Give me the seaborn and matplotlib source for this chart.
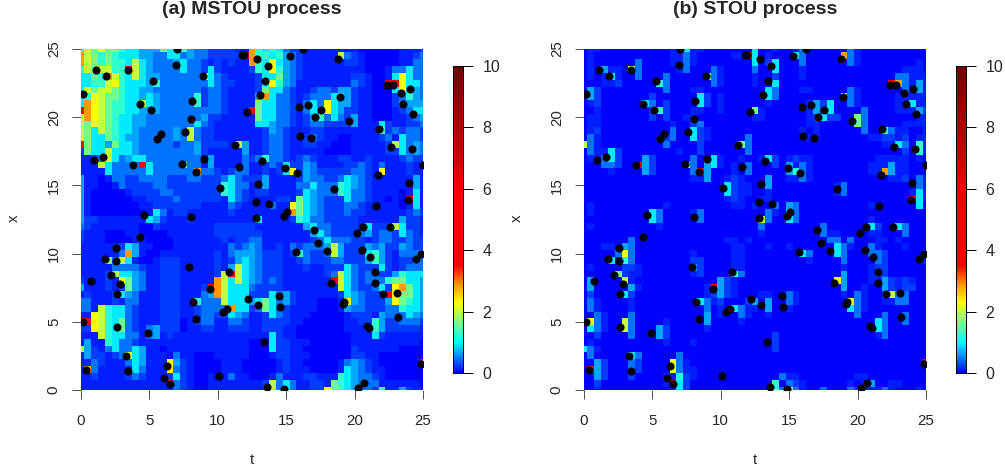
import matplotlib
matplotlib.use("Agg")
import matplotlib.pyplot as plt
from matplotlib.colors import LinearSegmentedColormap
import numpy as np
import pandas as pd
import seaborn as sns

TITLES = ["(a) MSTOU process", "(b) STOU process"]
LEVELS = {'0': 0.0, '1': 0.12, '2': 0.25, '3': 0.45, '4': 0.65, '5': 0.92, '6': 1.25,
          '7': 1.6, '8': 2.0, '9': 2.3, 'a': 2.85, 'b': 3.6}
# rows run from x=25 (top) to x=0; columns from t=0 to t=25 in steps of 0.5
MSTOU = """
68797 76554 44755 64332 22211 a6565 32211 11111 10000 00111 2
a8767 65554 43355 34332 2222b a6656 43211 11183 21000 00112 3
a8767 66585 43334 53321 21211 a6595 43211 11112 21000 00113 3
68788 66b85 43333 53325 21111 26596 43211 11111 11000 13353 3
5576a 86585 44333 33385 32111 12557 43211 11111 22100 15953 3
55668 96555 46333 33335 32211 12596 43111 11111 32100 bb955 3
58788 76554 43333 33323 32111 12755 32112 33244 21100 05954 3
56987 76554 54333 33623 32111 14a53 32123 335a4 21100 02364 3
5a987 66558 54333 33623 32111 17553 32135 39544 21100 02344 4
ba987 66554 44333 33333 32111 b7553 32135 49542 21100 01235 5
8a987 65544 33333 33342 21111 17553 32124 63532 41100 01123 4
87987 65544 33333 33532 11111 15543 32123 32222 41115 21122 3
87587 65543 33334 38322 11111 11243 21112 21111 11116 23233 2
87557 65443 33334 38322 11111 11233 21123 21100 11112 31533 2
b7554 75543 33332 33422 22184 11233 21122 11000 11111 28534 3
27558 55543 33333 33421 11114 11233 21111 10000 11111 22534 3
11238 53455 33333 33314 11113 23633 21232 11122 11211 11232 2
11185 3333b 53333 73314 11113 11232 52243 11112 23213 11121 1
11115 33333 53333 33a33 21233 11212 59243 22222 33219 11121 1
41101 33223 33322 23322 23532 22411 11243 32235 43211 11114 1
41100 13222 23322 22222 26533 11411 11335 33365 43211 11114 1
41000 00122 22332 22222 26532 12211 11254 33365 33211 11015 1
41000 00011 22223 22222 21532 11112 21754 32225 33211 010b5 1
41000 00001 12222 22211 11321 11131 19754 32223 32111 11015 1
41000 00000 15312 21111 11211 11111 1a754 32223 22111 11123 2
42211 11111 54211 12111 11111 15111 12653 32222 21111 11422 1
32111 11110 02111 11111 22222 21111 11145 33222 21522 28522 1
21110 00110 00011 11111 22222 22111 11114 53222 23423 32532 1
21110 00011 00001 11111 12122 33111 11112 35333 22123 32232 2
11111 12541 10001 11111 11323 43112 13233 34842 22434 22432 2
11111 13a41 00111 11111 21344 43222 12632 23842 22564 21333 3
11117 38510 01222 11111 21245 43222 11232 22332 22464 21223 3
11111 33332 11222 11111 21485 43222 11121 12225 32225 21233 3
11112 85543 11222 11111 28b85 43222 11111 12385 32332 24655 5
21112 19743 11222 11111 a8585 43232 11111 11b85 32333 67755 4
41112 12743 11222 1112b a8555 32222 11111 11185 32235 29a75 4
12111 25431 11222 11134 a8555 22253 42111 11125 43222 b9775 4
33111 21331 11222 11633 38555 45753 42111 00019 43222 49765 4
33186 55321 11222 11233 33a55 23753 21111 00014 33222 33655 4
11986 55321 11222 11233 22543 11253 21110 00001 22214 33354 3
bb986 57321 11222 01233 11332 11222 21100 00001 12264 22333 2
22986 57321 34222 01122 11222 11222 11000 00001 11264 22222 1
11186 55331 34121 11111 11111 11152 11000 00000 11152 11111 1
14116 53321 11111 11111 11111 00152 21110 00000 11111 11111 0
84213 53354 11011 11111 11111 00052 21100 00000 21111 11000 0
14221 23954 11103 11000 11111 00012 21110 00000 22110 00000 0
11321 11354 11194 21000 01110 00001 21100 00013 43210 00000 b
1a311 11153 11193 21000 01110 00001 21110 00015 43211 00000 0
11211 11232 11125 21001 01311 00013 11122 11165 43321 00000 0
11111 11111 111b3 21001 11111 11283 53112 21765 43331 11111 0
11111 11111 11113 21001 11111 11283 53112 29765 43326 11421 1
"""
STOU = """
01100 00000 00011 51100 00000 50010 01300 00003 10000 00000 0
01000 00000 00011 31000 0011b 50100 05300 000a3 10000 00000 0
01000 00030 00011 31000 00000 50250 00300 00003 10000 00001 0
01041 10830 00001 30003 10000 30050 00100 00000 00000 00111 0
01015 10030 00300 00073 10000 10020 00100 00000 00000 03311 1
00011 20000 06300 00003 10000 10050 00000 00000 00000 ba314 1
04200 00000 00300 01100 00000 00530 00110 00003 10000 00314 1
04200 00000 20000 00520 10000 00530 00000 00083 10000 01111 1
01200 00005 30200 00520 10000 00100 00014 25003 10000 01151 1
00100 00000 26200 01100 10000 71000 00014 25000 03000 01114 2
01100 00000 20200 11000 00000 11000 00012 52200 73000 00001 1
01100 00000 00010 02300 00000 00000 00011 00000 73000 00111 1
01200 00000 00030 05210 00000 00000 00101 00000 03006 31100 1
03100 00000 00230 05210 00003 00000 00011 00000 00112 21201 1
83100 00000 00300 00200 00073 00000 00000 00000 00001 15306 1
03115 20000 00001 00200 00003 00000 00000 00000 00000 00206 1
01135 20004 20000 03005 10010 01520 12110 00000 00011 11101 0
00033 200b4 20000 73045 10103 00020 41310 00000 00111 41100 0
00001 00004 20000 03b40 00103 00000 46310 00000 0011a 41100 0
00000 00000 00000 01140 01210 00400 11310 00000 00000 11203 1
00000 00000 00000 00000 05211 00400 00000 00130 00000 00003 1
00000 00000 00000 00000 05211 00100 00000 00130 00000 00015 1
00000 00000 00000 00000 01210 01100 00000 00000 00000 000b5 1
01000 00000 00100 00000 00110 10030 43000 00000 00100 00005 0
01000 00000 53000 01300 00000 00310 53000 00000 00000 00000 0
00000 00000 53000 00300 00000 08300 53000 00000 00100 00000 0
01000 00000 01000 00000 00000 03000 00000 30000 00520 05300 0
00000 00000 00000 00000 00000 01000 00000 31100 00110 00300 0
00000 00300 00000 00000 01101 00000 00000 03303 00011 01000 0
00011 04300 00000 00000 00110 00100 10000 00531 00310 00100 0
00000 39300 00000 01000 00110 00000 00530 00530 00332 00000 1
00005 06300 00000 02200 00110 00000 00010 00030 00032 00000 1
01000 02210 00000 04200 00110 00000 00000 00010 00122 00000 0
00000 72110 00000 01200 00630 00000 00000 00040 00122 00000 0
04000 08100 00000 00000 42100 00000 00000 00940 00114 21210 0
04000 00410 00000 0001b 42100 00000 00000 00040 01004 21220 0
02000 05200 00000 00012 42100 01100 31000 00010 31002 83300 0
03100 00100 00000 00531 20002 40400 31000 00009 31001 13300 0
03100 00100 00000 00030 10531 10400 10000 00005 31000 00000 0
00310 00300 00000 00040 10031 00100 00000 00000 30003 00300 0
09310 08300 00100 00040 00010 00000 00000 00000 00053 00300 0
05310 08300 04200 00010 00000 00000 00000 00000 00053 00000 0
00200 00300 04200 00000 00000 00020 00000 00000 00013 00000 0
01000 00000 00100 01000 00000 00020 00000 00000 00000 00000 0
53100 00000 00000 00000 00000 00020 00000 00000 00000 00000 0
03000 00530 00003 00000 00000 00000 00000 00000 00000 00000 0
00420 00320 00093 10000 00000 00000 00000 00000 00000 00000 b
0b420 00320 00093 11000 00000 00000 00000 00000 00000 00000 0
00420 00200 00116 21000 00000 00003 11000 00000 11000 00000 0
00200 00000 001b5 20000 00000 00060 32100 00001 01400 11000 0
00100 00000 00015 20000 00000 00063 73100 30003 21113 10001 0
"""
POINT_T = [7.04, 11.75, 11.9, 6.97, 1.07, 1.8, 3.46, 8.92, 5.24, 0.12, 4.31, 8.11, 5.14, 8.07, 12.1,
           5.87, 5.58, 7.58, 11.23, 1.63, 0.93, 3.83, 7.36, 9.02, 11.55, 8.41, 10.14, 4.58, 8.02,
           16.25, 15.25, 12.9, 13.69, 18.81, 13.43, 13.06, 22.37, 22.78, 24.07, 23.37, 23.56, 18.93,
           15.94, 16.57, 17.52, 17.1, 19.62, 24.27, 21.8, 16.03, 16.79, 22.66, 24.22, 13.2, 14.9,
           15.79, 21.74, 25.0, 12.94, 18.52, 24.0, 12.77, 13.72, 23.88, 21.56, 15.03, 14.86, 12.79,
           4.34, 2.56, 1.75, 2.53, 7.87, 10.79, 2.19, 0.76, 2.88, 2.63, 9.43, 8.16, 12.23, 10.7, 10.4,
           8.43, 0.17, 2.63, 4.9, 3.31, 6.29, 0.34, 3.46, 6.07, 6.5, 10.06,
           17.03, 20.6, 20.15, 22.59, 17.33, 18.0, 15.74, 20.52, 21.1, 24.83, 24.46, 21.52, 21.52,
           18.25, 14.47, 22.1, 23.12, 14.57, 12.96, 19.22, 19.13, 23.15, 20.9, 21.08, 13.4, 24.88,
           20.69, 20.22, 13.6, 14.82]
POINT_X = [25.0, 24.56, 24.56, 23.8, 23.46, 23.0, 23.46, 23.0, 22.65, 21.7, 21.0, 21.16, 20.5, 19.9, 20.4,
           18.75, 18.4, 18.9, 17.94, 17.06, 16.84, 16.47, 16.6, 16.9, 16.35, 15.96, 14.78, 12.8, 12.68,
           25.0, 24.5, 24.25, 23.75, 24.25, 22.63, 21.6, 22.34, 22.34, 22.04, 21.75, 20.94, 21.46,
           20.72, 20.87, 20.5, 20.0, 19.7, 20.2, 19.1, 18.6, 18.45, 17.8, 17.65, 16.76, 16.25,
           15.9, 15.74, 16.47, 15.08, 14.7, 15.15, 13.76, 13.6, 13.9, 13.47, 13.03, 12.73, 12.6,
           11.19, 10.39, 9.58, 9.43, 8.99, 8.63, 8.41, 7.97, 7.75, 7.01, 7.38, 6.43, 6.65, 5.91, 5.69,
           5.18, 4.96, 4.6, 4.15, 2.47, 1.74, 1.44, 1.37, 0.85, 0.41, 1.0,
           11.71, 11.93, 11.49, 11.93, 10.75, 10.17, 10.09, 10.24, 9.73, 9.95, 9.58, 8.63, 7.82,
           7.82, 6.87, 7.01, 7.09, 6.06, 6.21, 6.43, 6.28, 5.33, 4.67, 4.52, 3.5, 1.88,
           0.49, 0.15, 0.2, 0.1]
AXIS_TICKS = [0, 5, 10, 15, 20, 25]
CBAR_TICKS = [0, 2, 4, 6, 8, 10]


def parse(text):
    rows = [r.replace(" ", "") for r in text.strip().splitlines()]
    return pd.DataFrame([[LEVELS[c] for c in r] for r in rows])


VMAX = 10.0
nodes = [(0, (0, 0, 1)), (0.25, (0, .25, 1)), (1.0, (0, 1, 1)), (1.6, (.45, 1, .55)), (2.3, (1, 1, 0)),
         (2.85, (1, .6, 0)), (3.5, (1, 0, 0)), (6.0, (.95, 0, 0)), (10, (.45, 0, 0))]
cmap = LinearSegmentedColormap.from_list("jetlike", [(v / VMAX, c) for v, c in nodes], N=512)

sns.set_style("white")
plt.rcParams['font.family'] = ['Liberation Sans', 'DejaVu Sans']
W, H = 1005, 473
fig = plt.figure(figsize=(W / 100, H / 100), dpi=100)


def box(x0, y0, x1, y1):
    return [x0 / W, 1 - y1 / H, (x1 - x0) / W, (y1 - y0) / H]


def pos(v):
    return 2 * np.asarray(v, dtype=float) + 0.5


panels = [(MSTOU, 81, 453, TITLES[0]), (STOU, 584, 956, TITLES[1])]
for text, left, cleft, title in panels:
    ax = fig.add_axes(box(left, 49, left + 342, 390))
    cax = fig.add_axes(box(cleft, 66, cleft + 10, 373))
    sns.heatmap(parse(text), ax=ax, cbar_ax=cax, cmap=cmap, vmin=0, vmax=VMAX,
                xticklabels=False, yticklabels=False, square=False)
    df = pd.DataFrame({"t": pos(POINT_T), "x": pos(25 - np.asarray(POINT_X))})
    sns.scatterplot(data=df, x="t", y="x", ax=ax, color="black", s=34, linewidth=0, legend=False, zorder=5)
    ax.set_xlim(0.5, 50.5)
    ax.set_ylim(50.5, 0.5)
    ax.set_xticks(pos(AXIS_TICKS))
    ax.set_xticklabels([str(v) for v in AXIS_TICKS], fontsize=10.8)
    ax.set_yticks(pos([25 - v for v in AXIS_TICKS]))
    ax.set_yticklabels([str(v) for v in AXIS_TICKS], fontsize=10.8, rotation=90, va="center")
    ax.tick_params(axis="x", length=6.5, width=0.6, color="#333333", pad=11, bottom=True)
    ax.tick_params(axis="y", length=6.5, width=0.6, color="#333333", pad=8, left=True)
    for s in ax.spines.values():
        s.set_visible(False)
    ax.set_xlabel("")
    ax.set_ylabel("")
    fig.text((left + 171) / W, 1 - 459.5 / H, "t", fontsize=10.8, ha="center", va="center")
    fig.text((left - 67) / W, 1 - 218 / H, "x", fontsize=10.8, ha="center", va="center", rotation=90)
    fig.text((left + 171) / W, 1 - 10 / H, title, fontsize=14, fontweight="bold", ha="center", va="center")
    cax.set_yticks(CBAR_TICKS)
    cax.set_yticklabels([str(v) for v in CBAR_TICKS], fontsize=11.5)
    cax.tick_params(axis="y", right=True, length=7, width=0.7, color="black", pad=7)
    for s in cax.spines.values():
        s.set_visible(True)
        s.set_linewidth(0.7)
        s.set_color("black")

fig.savefig("out.png", dpi=100)
